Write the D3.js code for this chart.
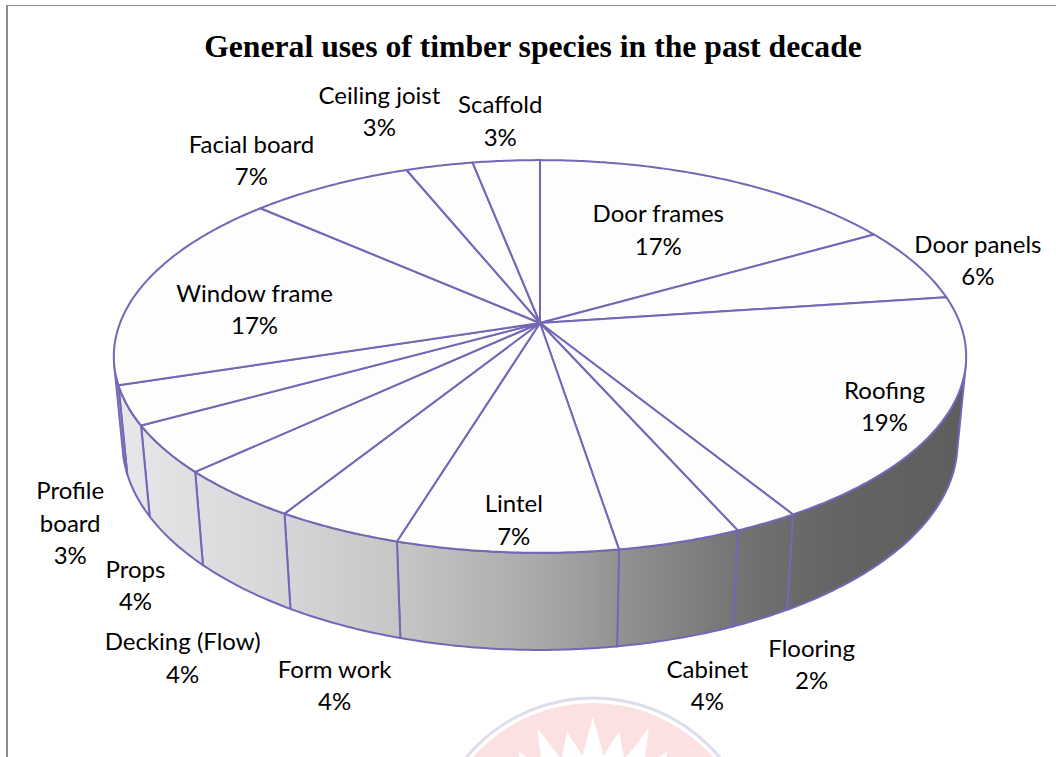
<!DOCTYPE html>
<html>
<head>
<meta charset="utf-8">
<script src="https://d3js.org/d3.v7.min.js"></script>
<style>
    body { margin: 0; background: #ffffff; }
    #my_piechart { width: 1056px; height: 757px; }
</style>
</head>
<body>
<div id="my_piechart"></div>
<script>
// slices, clockwise from 12 o'clock (percent of total)
var categories = ["Door frames", "Door panels", "Roofing", "Flooring", "Cabinet", "Lintel",
    "Form work", "Decking (Flow)", "Props", "Profile board", "Window frame", "Facial board",
    "Ceiling joist", "Scaffold"];
var shares = [16.6, 6.2, 18.6, 2.1, 4.0, 7.1, 4.1, 4.2, 3.9, 3.2, 16.7, 7.3, 3.0, 3.0];

var chartTitle = "General uses of timber species in the past decade";

// label placement: [radius on the disc, plane, nudge x, nudge y, wrap name]
var labelLayout = [
    [0.60, "top", 3, -2],
    [1.17, "top", 2, 6],
    [0.85, "top", 1, 9],
    [1.20, "bottom", -3, -5],
    [1.17, "bottom", 2, -1],
    [0.87, "top", 2, 3],
    [1.20, "bottom", 40, 7],
    [1.20, "bottom", 10, 27],
    [1.10, "bottom", 4, 29],
    [1.20, "bottom", 22, 9, true],
    [0.70, "top", -5, 14],
    [1.25, "top", -34, 4],
    [1.30, "top", -35, -15],
    [1.25, "top", 1, -6]
];

var width = 1056,
    height = 757;

// 3d camera for the tilted pie
var cx = 540,
    cy = 323,
    tilt = 27 * Math.PI / 180,
    sinT = Math.sin(tilt),
    cosT = Math.cos(tilt),
    camDist = 5.227,
    focal = 2195,
    thick = 0.233;

var lineColor = "#7566b6";

function project(angle, r, z) {
    var X = r * Math.sin(angle),
        Y = -r * Math.cos(angle);
    var depth = camDist - Y * cosT - z * sinT;
    var v = -Y * sinT + z * cosT;
    return [cx + focal * X / depth, cy - focal * v / depth];
}

function arcPoints(a0, a1, r, z) {
    var pts = d3.range(a0, a1, 0.01).map(function(a) {
        return project(a, r, z);
    });
    pts.push(project(a1, r, z));
    return pts;
}

var svg = d3.select("#my_piechart")
    .append("svg")
    .attr("width", width)
    .attr("height", height);

////////// page frame //////////
svg.append("line")
    .attr("x1", 7).attr("y1", 5).attr("x2", 7).attr("y2", height)
    .attr("stroke", "#8c8c8c").attr("stroke-width", 2);
svg.append("line")
    .attr("x1", 7).attr("y1", 5.5).attr("x2", width).attr("y2", 5.5)
    .attr("stroke", "#8c8c8c").attr("stroke-width", 1.2);

////////// faint watermark at the bottom //////////
var mark = svg.append("g")
    .attr("transform", "translate(593,863)")
    .attr("opacity", 0.42);
mark.append("circle").attr("r", 165)
    .attr("fill", "none").attr("stroke", "#aeb0d6").attr("stroke-width", 3);
mark.append("circle").attr("r", 160).attr("fill", "#f7b9b9");
var starPts = d3.range(64).map(function(i) {
    var r = i % 2 == 1 ? 108 : (i % 4 == 0 ? 146 : 134);
    return [i * Math.PI / 32, r];
});
mark.append("path")
    .attr("d", d3.lineRadial().curve(d3.curveLinearClosed)(starPts))
    .attr("fill", "#ffffff");

////////// title //////////
svg.append("text")
    .attr("x", 533)
    .attr("y", 57)
    .attr("text-anchor", "middle")
    .style("font-family", "'Liberation Serif', 'Times New Roman', serif")
    .style("font-weight", "bold")
    .style("font-size", "31.7px")
    .text(chartTitle);

////////// pie //////////
var data = categories.map(function(c, i) {
    return { name: c, value: shares[i], layout: labelLayout[i] };
});
var total = d3.sum(shares);

var pie = d3.pie()
    .sort(null)
    .value(function(d) { return d.value; });
var slices = pie(data);

var defs = svg.append("defs");
var grad = defs.append("linearGradient")
    .attr("id", "wallGrad")
    .attr("gradientUnits", "userSpaceOnUse")
    .attr("x1", 113).attr("x2", 966).attr("y1", 0).attr("y2", 0);
[[0, "#e8e8ea"], [0.2, "#d6d6d8"], [0.35, "#c4c4c4"], [0.5, "#a9a9a9"],
    [0.62, "#8c8c8c"], [0.75, "#707070"], [0.85, "#646464"], [1, "#5e5e5e"]]
    .forEach(function(s) {
        grad.append("stop").attr("offset", s[0]).attr("stop-color", s[1]);
    });

// part of the outer wall that faces the camera
var edgeA = Math.acos(-1 / (camDist * cosT)),
    edgeB = 2 * Math.PI - edgeA;

var line = d3.line();

var walls = svg.append("g").attr("class", "walls");
slices.forEach(function(d) {
    var a0 = Math.max(d.startAngle, edgeA),
        a1 = Math.min(d.endAngle, edgeB);
    if (a1 <= a0) return;
    var pts = arcPoints(a0, a1, 1, 0).concat(arcPoints(a0, a1, 1, -thick).reverse());
    walls.append("path")
        .attr("d", line(pts) + "Z")
        .attr("fill", "url(#wallGrad)")
        .attr("stroke", lineColor)
        .attr("stroke-width", 2)
        .attr("stroke-linejoin", "round");
});

var tops = svg.append("g").attr("class", "tops");
slices.forEach(function(d) {
    var pts = [project(0, 0, 0)].concat(arcPoints(d.startAngle, d.endAngle, 1, 0));
    tops.append("path")
        .attr("d", line(pts) + "Z")
        .attr("fill", "#fdfdfd")
        .attr("stroke", lineColor)
        .attr("stroke-width", 2)
        .attr("stroke-linejoin", "round");
});

////////// labels //////////
var labels = svg.append("g")
    .attr("class", "labels")
    .style("font-family", "Lato, 'Open Sans', sans-serif")
    .style("font-size", "24px")
    .attr("fill", "#000000")
    .attr("text-anchor", "middle");

var lineStep = 32.5;
slices.forEach(function(d) {
    var lay = d.data.layout;
    var mid = (d.startAngle + d.endAngle) / 2;
    var p = project(mid, lay[0], lay[1] == "top" ? 0 : -thick);
    var x = p[0] + lay[2],
        y = p[1] + lay[3];
    var lines = lay[4] ? d.data.name.split(" ") : [d.data.name];
    lines.push(Math.round(d.data.value / total * 100) + "%");
    var t = labels.append("text")
        .attr("x", x)
        .attr("y", y - (lines.length - 1) * lineStep / 2)
        .attr("dy", "0.35em");
    lines.forEach(function(s, i) {
        t.append("tspan")
            .attr("x", x)
            .attr("dy", i == 0 ? "0.35em" : lineStep)
            .text(s);
    });
});
</script>
</body>
</html>
